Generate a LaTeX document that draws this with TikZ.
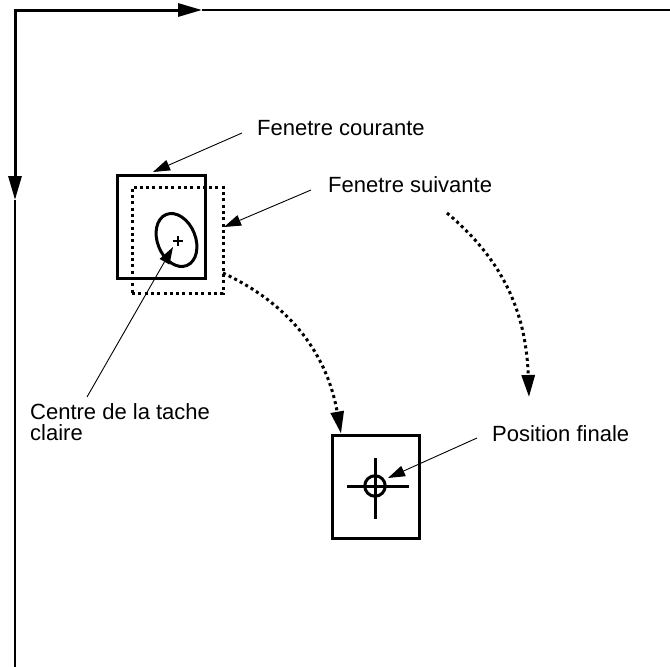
\documentclass[tikz,border=0pt]{standalone}
\usepackage{fontspec}
\setmainfont{Liberation Sans}
\usetikzlibrary{arrows.meta,shapes.geometric}
\tikzset{axtip/.tip={Triangle[length=24pt,width=13pt]}}
\begin{document}
\begin{tikzpicture}[x=1pt,y=-1pt,
  thickline/.style={line width=3pt},
  thinline/.style={line width=1.3pt},
  lbl/.style={font=\fontsize{22}{21}\selectfont, inner sep=0pt, anchor=base west, align=left},
  ptr/.style={line width=0.9pt, -{Triangle[length=17pt,width=11pt]}},
  dotarrow/.style={line width=3pt, dash pattern=on 3pt off 3.3pt, -{Triangle[length=22pt,width=13pt]}},
  win/.style={draw, line width=3pt, inner sep=0pt, outer sep=0pt},
  dotwin/.style={win, dash pattern=on 3pt off 3.3pt},
]
\useasboundingbox (0,0) rectangle (670,667);

% axes
\coordinate (O) at (15,10);
\coordinate (xtip) at (202,10);
\coordinate (ytip) at (15,200);
\coordinate (xend) at (670,10);
\coordinate (yend) at (15,667);
\draw[thickline, {axtip}-{axtip}] (ytip) -- (O) -- (xtip);
\draw[thinline] (xtip) -- (xend);
\draw[thinline] (ytip) -- (yend);

% windows
\node[win, minimum width=88pt, minimum height=103pt] (cur) at (161,226.5) {};
\node[dotwin, minimum width=91pt, minimum height=106pt] (nxt) at (177.5,240) {};
\node[win, minimum width=87pt, minimum height=103pt] (fin) at (375.5,486.5) {};

% bright spot
\node[draw, ellipse, line width=3pt, minimum width=38pt, minimum height=55pt, rotate=22, inner sep=0pt] (spot) at (176.5,240) {};
\draw[line width=2.5pt] (173,241) -- (183,241) (178,236) -- (178,246);

% final position crosshair
\node[draw, circle, line width=3pt, minimum size=20.5pt, inner sep=0pt] (target) at (375,486) {};
\draw[line width=3pt] (347,486) -- (409,486) (375,458) -- (375,519);

% labels
\node[lbl] (lab1) at (257,135) {Fenetre courante};
\node[lbl] (lab2) at (328,192) {Fenetre suivante};
\node[lbl] (lab3) at (30,440) {Centre de la tache\\claire};
\node[lbl] (lab4) at (492,441.5) {Position finale};

\coordinate (tipA) at (153,172);
\coordinate (tipB) at (224,227);
\coordinate (tipC) at (173,247);
\coordinate (tipD) at (388,478);

\draw[ptr] ([xshift=-15pt,yshift=2pt]lab1.base west) -- (tipA);
\draw[ptr] ([xshift=-17pt,yshift=2pt]lab2.base west) -- (tipB);
\draw[ptr] ([xshift=57pt,yshift=43pt]lab3.base west) -- (tipC);
\draw[ptr] ([xshift=-15pt,yshift=3.5pt]lab4.base west) -- (tipD);

% motion arrows
\coordinate (m1) at (447,213);
\coordinate (m2) at (529,397);
\draw[dotarrow] ([yshift=-33pt]nxt.east) to[out=-25,in=100] ([xshift=9pt,yshift=1.5pt]fin.north west);
\draw[dotarrow] (m1) to[out=-40,in=92] (m2);
\end{tikzpicture}
\end{document}
